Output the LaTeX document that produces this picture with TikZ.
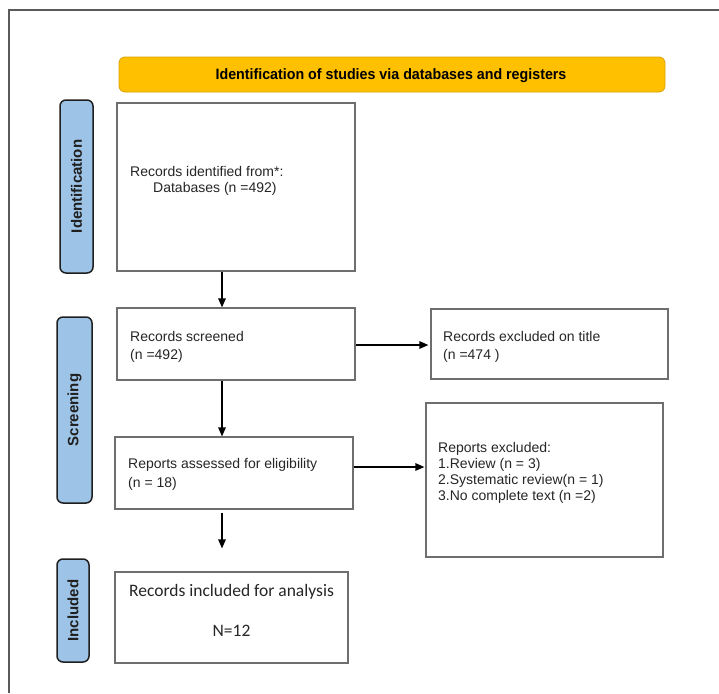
\documentclass[tikz,border=0pt]{standalone}
\usepackage{fontspec}
\usepackage{graphicx}
\setmainfont{Liberation Sans}
\newfontfamily\calfont{Carlito}
\usetikzlibrary{arrows.meta}
\definecolor{hdrfill}{HTML}{FFC000}
\definecolor{hdrline}{HTML}{D9A300}
\definecolor{sidefill}{HTML}{9DC3E6}
\definecolor{sideline}{HTML}{1F1F1F}
\definecolor{boxline}{HTML}{6E6E6E}
\definecolor{framegray}{HTML}{5A5A5A}
\definecolor{txt}{HTML}{262626}
\tikzset{
  boxnode/.style={draw=boxline, line width=1.2pt, fill=white, rectangle, inner sep=0pt},
  sidenode/.style={draw=sideline, line width=1.5pt, fill=sidefill, rounded corners=6pt, inner sep=0pt},
  sidetext/.style={rotate=90, font=\fontsize{15}{15}\selectfont\bfseries, text=sideline},
  boxtext/.style={anchor=base west, align=left, inner sep=0pt, text=txt},
  flow/.style={-{Triangle[length=9pt,width=7.5pt]}, line width=1.3pt, black},
}
\begin{document}
\begin{tikzpicture}[x=1pt,y=-1pt]
\useasboundingbox (0,0) rectangle (719,693);
\fill[white] (0,0) rectangle (719,693);
% outer frame
\draw[framegray, line width=1.5pt] (9,693) -- (9,10) -- (719,10);

% header
\node[draw=hdrline, line width=0.8pt, fill=hdrfill, rounded corners=6pt, minimum width=546pt, minimum height=35pt, inner sep=0pt] (hdr) at (392,74.5) {};
\node[anchor=base, inner sep=0pt, text=black] (hdrtext) at (391,79) {\fontsize{15}{15}\selectfont\bfseries\scalebox{0.95}[1]{Identification of studies via databases and registers}};

% side labels
\node[sidenode, minimum width=33pt, minimum height=173pt] (sid) at (76.5,186.5) {};
\node[sidetext] (sidt) at (sid.center) {Identification};
\node[sidenode, minimum width=35pt, minimum height=186pt] (ssc) at (74.5,410) {};
\node[sidetext] (ssct) at (ssc.center) {Screening};
\node[sidenode, minimum width=32pt, minimum height=103pt] (sin) at (73,610.5) {};
\node[sidetext] (sint) at (sin.center) {Included};

% boxes
\node[boxnode, minimum width=238pt, minimum height=168pt] (b1) at (236,187) {};
\node[boxnode, minimum width=238pt, minimum height=72pt] (b2) at (236,344) {};
\node[boxnode, minimum width=237pt, minimum height=70pt] (b3) at (549.5,344) {};
\node[boxnode, minimum width=238pt, minimum height=72pt] (b4) at (234,473) {};
\node[boxnode, minimum width=237pt, minimum height=154pt] (b5) at (544.5,480) {};
\node[boxnode, minimum width=233pt, minimum height=91pt] (b6) at (231.5,617.5) {};

% box texts (base = baseline of the last line)
\node[boxtext, font=\fontsize{14}{15.5}\selectfont] (t1) at (130,192) {Records identified from*:\\\hspace*{23pt}Databases (n =492)};
\node[boxtext, font=\fontsize{14}{17.5}\selectfont] (t2) at (130,359) {Records screened\\(n =492)};
\node[boxtext, font=\fontsize{14}{17.5}\selectfont] (t3) at (443,359) {Records excluded on title\\(n =474 )};
\node[boxtext, font=\fontsize{14}{19}\selectfont] (t4) at (128,487.5) {Reports assessed for eligibility\\(n = 18)};
\node[boxtext, font=\fontsize{14}{16}\selectfont] (t5) at (438,500) {Reports excluded:\\1.Review (n = 3)\\2.Systematic review(n = 1)\\3.No complete text (n =2)};
\node[anchor=base, inner sep=0pt, text=txt, font=\calfont\fontsize{17.5}{17.5}\selectfont] (t6a) at (231.5,596) {Records included for analysis};
\node[anchor=base, inner sep=0pt, text=txt, font=\calfont\fontsize{17.5}{17.5}\selectfont] (t6b) at (231.5,636.5) {N=12};

% connectors
\draw[flow] ([xshift=-14pt]b1.south) -- ([xshift=-14pt]b2.north);
\draw[flow] ([xshift=-14pt]b2.south) -- ([xshift=-12pt]b4.north);
\draw[flow, shorten <=3pt, shorten >=23pt] ([xshift=-12pt]b4.south) -- ([xshift=-9.5pt]b6.north);
\draw[flow, shorten >=2pt] ([yshift=-1pt]b2.east) -- ([yshift=-1pt]b2.east -| b3.west);
\draw[flow, shorten >=1pt] ([yshift=6pt]b4.east) -- ([yshift=6pt]b4.east -| b5.west);
\end{tikzpicture}
\end{document}
